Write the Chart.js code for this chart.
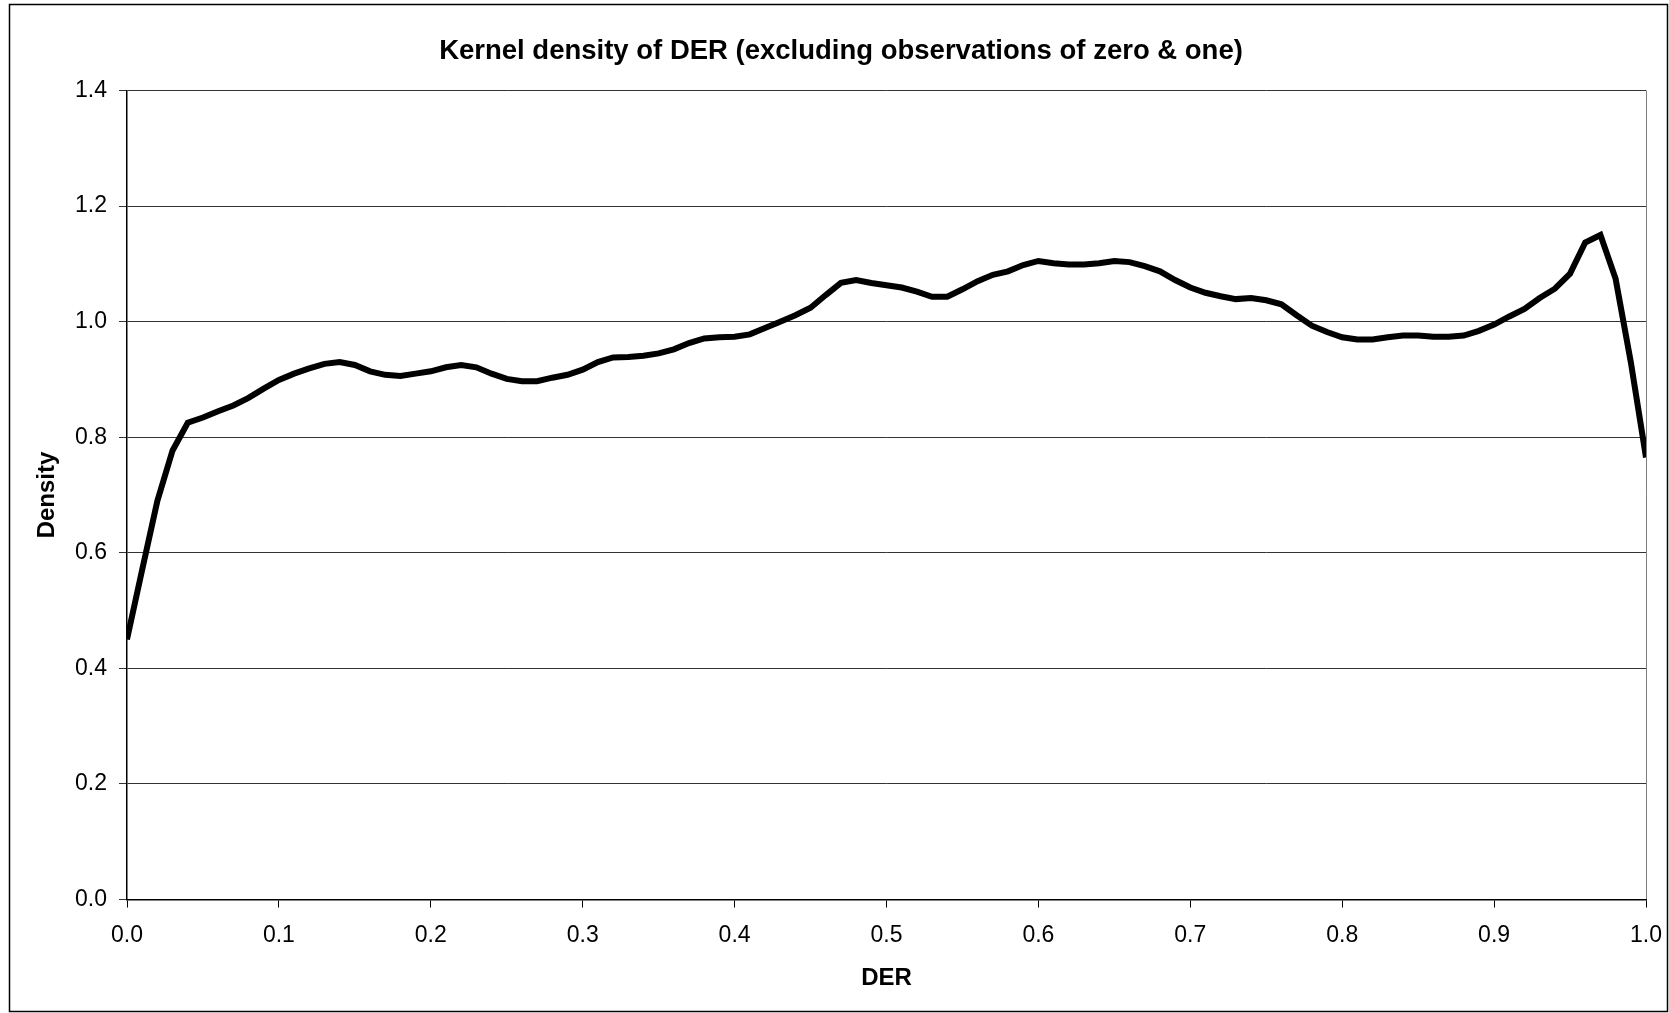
<!DOCTYPE html>
<html>
<head>
<meta charset="utf-8">
<script src="https://cdn.jsdelivr.net/npm/chart.js@4/dist/chart.umd.min.js"></script>
<style>
  html, body { margin: 0; padding: 0; background: #fff; }
  #wrap { width: 1669px; height: 1013px; }
</style>
</head>
<body>
<div id="wrap"><canvas id="densityChart" width="1669" height="1013"></canvas></div>
<script>
// DER grid points (0.00 .. 1.00)
const derValues = [
  0.00, 0.01, 0.02, 0.03, 0.04, 0.05, 0.06, 0.07, 0.08, 0.09,
  0.10, 0.11, 0.12, 0.13, 0.14, 0.15, 0.16, 0.17, 0.18, 0.19,
  0.20, 0.21, 0.22, 0.23, 0.24, 0.25, 0.26, 0.27, 0.28, 0.29,
  0.30, 0.31, 0.32, 0.33, 0.34, 0.35, 0.36, 0.37, 0.38, 0.39,
  0.40, 0.41, 0.42, 0.43, 0.44, 0.45, 0.46, 0.47, 0.48, 0.49,
  0.50, 0.51, 0.52, 0.53, 0.54, 0.55, 0.56, 0.57, 0.58, 0.59,
  0.60, 0.61, 0.62, 0.63, 0.64, 0.65, 0.66, 0.67, 0.68, 0.69,
  0.70, 0.71, 0.72, 0.73, 0.74, 0.75, 0.76, 0.77, 0.78, 0.79,
  0.80, 0.81, 0.82, 0.83, 0.84, 0.85, 0.86, 0.87, 0.88, 0.89,
  0.90, 0.91, 0.92, 0.93, 0.94, 0.95, 0.96, 0.97, 0.98, 0.99,
  1.00
];

// kernel density estimate
const densityValues = [
  0.450, 0.571, 0.690, 0.777, 0.825, 0.834, 0.845, 0.855, 0.868, 0.884,
  0.899, 0.910, 0.919, 0.927, 0.930, 0.925, 0.914, 0.908, 0.906, 0.910,
  0.914, 0.921, 0.925, 0.921, 0.910, 0.901, 0.897, 0.897, 0.903, 0.908,
  0.917, 0.930, 0.938, 0.939, 0.941, 0.945, 0.952, 0.963, 0.971, 0.973,
  0.974, 0.978, 0.989, 1.000, 1.011, 1.024, 1.046, 1.067, 1.072, 1.067,
  1.063, 1.059, 1.052, 1.043, 1.043, 1.056, 1.070, 1.081, 1.087, 1.098,
  1.105, 1.101, 1.099, 1.099, 1.101, 1.105, 1.103, 1.096, 1.087, 1.072,
  1.059, 1.050, 1.044, 1.039, 1.041, 1.037, 1.030, 1.011, 0.993, 0.982,
  0.973, 0.969, 0.969, 0.973, 0.976, 0.976, 0.974, 0.974, 0.976, 0.984,
  0.995, 1.009, 1.022, 1.041, 1.057, 1.083, 1.137, 1.150, 1.074, 0.930,
  0.765
];

// axis ticks
const xTicks = [0.0, 0.1, 0.2, 0.3, 0.4, 0.5, 0.6, 0.7, 0.8, 0.9, 1.0];
const yTicks = [0.0, 0.2, 0.4, 0.6, 0.8, 1.0, 1.2, 1.4];

const fontFamily = "'Liberation Sans', Arial, sans-serif";

// white background + outer frame like the spreadsheet chart area
const framePlugin = {
  id: 'frame',
  beforeDraw(chart) {
    const c = chart.ctx;
    c.save();
    c.fillStyle = '#fff';
    c.fillRect(0, 0, chart.width, chart.height);
    c.strokeStyle = '#000';
    c.lineWidth = 1.5;
    c.strokeRect(9.5, 4.5, chart.width - 11, chart.height - 6);
    c.restore();
  }
};

const ctx = document.getElementById('densityChart').getContext('2d');
const densityChart = new Chart(ctx, {
  type: 'line',
  data: {
    datasets: [{
      label: 'Density',
      data: derValues.map((x, i) => ({ x: x, y: densityValues[i] })),
      borderColor: '#000',
      borderWidth: 6,
      pointRadius: 0,
      tension: 0,
      fill: false
    }]
  },
  options: {
    responsive: false,
    animation: false,
    layout: { padding: { left: 36, right: 23, top: 0, bottom: 0 } },
    plugins: {
      legend: { display: false },
      tooltip: { enabled: false },
      title: {
        display: true,
        text: 'Kernel density of DER (excluding observations of zero & one)',
        color: '#000',
        font: { family: fontFamily, size: 27.5, weight: 'bold', lineHeight: 1.2 },
        padding: { top: 34.5, bottom: 23 }
      }
    },
    scales: {
      x: {
        type: 'linear',
        min: 0,
        max: 1,
        afterBuildTicks: (scale) => { scale.ticks = xTicks.map(v => ({ value: v })); },
        afterFit: (scale) => {
          scale.height = 113.5;
          scale.paddingLeft = 0;
          scale.paddingRight = 0;
        },
        ticks: {
          color: '#000',
          padding: 14,
          maxRotation: 0,
          font: { family: fontFamily, size: 23 },
          callback: (v) => Number(v).toFixed(1)
        },
        grid: {
          drawOnChartArea: true,
          color: (c) => (c.tick && c.tick.value === 1 ? '#808080' : 'rgba(0,0,0,0)'),
          tickColor: '#000',
          tickLength: 8,
          lineWidth: 1
        },
        border: { display: true, color: '#000', width: 1.5 },
        title: {
          display: true,
          text: 'DER',
          color: '#000',
          font: { family: fontFamily, size: 24, weight: 'bold' },
          padding: { top: 0, bottom: 20 }
        }
      },
      y: {
        type: 'linear',
        min: 0,
        max: 1.4,
        afterBuildTicks: (scale) => { scale.ticks = yTicks.map(v => ({ value: v })); },
        afterFit: (scale) => { scale.width = 91; },
        ticks: {
          color: '#000',
          padding: 12,
          font: { family: fontFamily, size: 23 },
          callback: (v) => Number(v).toFixed(1)
        },
        grid: {
          color: '#333',
          tickColor: '#333',
          tickLength: 8,
          lineWidth: 1
        },
        border: { display: true, color: '#000', width: 1.5 },
        title: {
          display: true,
          text: 'Density',
          color: '#000',
          font: { family: fontFamily, size: 24, weight: 'bold', lineHeight: 0.5 },
          padding: { top: 5.5, bottom: 0 }
        }
      }
    }
  },
  plugins: [framePlugin]
});
</script>
</body>
</html>
